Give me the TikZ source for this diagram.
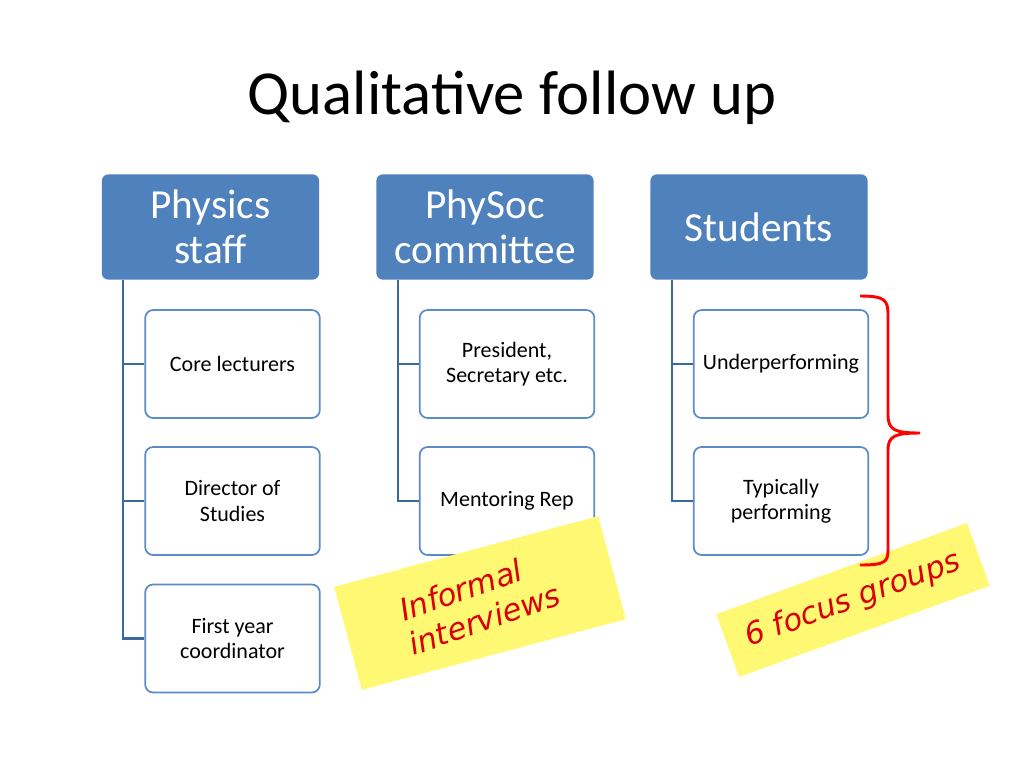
\documentclass[tikz,border=0pt]{standalone}
\usepackage{fontspec}
\setmainfont{Carlito}
\newfontfamily\hand{DejaVu Sans Oblique}
\begin{document}
\begin{tikzpicture}[x=0.75pt,y=-0.75pt,
  head/.style={draw=none,fill=hblue,rounded corners=5pt,text=white,font=\fontsize{31}{34}\selectfont,align=center,minimum width=163pt,minimum height=79pt,inner sep=0pt},
  child/.style={draw=cblue,line width=1.3pt,fill=white,rounded corners=6pt,font=\fontsize{16.5}{19}\selectfont,align=center,minimum width=131pt,minimum height=81pt,inner sep=0pt},
  conn/.style={draw=lblue,line width=1.8pt},
  note/.style={fill=yellow!55,text=red!85!black,font=\hand\fontsize{23}{25}\selectfont,align=left,inner sep=4pt}]
\definecolor{hblue}{HTML}{4F81BD}
\definecolor{cblue}{HTML}{5B8CC8}
\definecolor{lblue}{HTML}{3B6AA0}
\useasboundingbox (0,0) rectangle (1024,768);
\node[font=\fontsize{47}{52}\selectfont] (title) at (512,98) {Qualitative follow up};
\node[head] (h1) at (210.5,227) {Physics\\staff};
\node[head] (h2) at (485,227) {PhySoc\\committee};
\node[head] (h3) at (759,227) {Students};
\node[child] (a1) at (232.5,364) {Core lecturers};
\node[child] (a2) at (232.5,501) {Director of\\Studies};
\node[child] (a3) at (232.5,638.5) {First year\\coordinator};
\node[child] (b1) at (507,364) {President,\\Secretary etc.};
\node[child] (b2) at (507,501) {Mentoring Rep};
\node[child] (c1) at (781,364) {Underperforming};
\node[child] (c2) at (781,501) {Typically\\performing};
\coordinate (s1) at (123,280); \coordinate (s2) at (398,280); \coordinate (s3) at (672,280);
\draw[conn] (s1) |- (a3.west);
\draw[conn] (s1 |- a1.west) -- (a1.west);
\draw[conn] (s1 |- a2.west) -- (a2.west);
\draw[conn] (s2) |- (b2.west);
\draw[conn] (s2 |- b1.west) -- (b1.west);
\draw[conn] (s3) |- (c2.west);
\draw[conn] (s3 |- c1.west) -- (c1.west);
\node[note,rotate=15,minimum width=205pt,minimum height=80pt] (n1) at (480,603) {\rotatebox{4}{Informal}\\\rotatebox{4}{interviews}};
\node[note,rotate=20,minimum width=200pt,minimum height=50pt] (n2) at (853,600) {6 focus groups};
\draw[red,line width=2.2pt] (860,296) .. controls (885,296) and (888,300) .. (888,315) -- (888,415) .. controls (888,430) and (895,433) .. (920,433) .. controls (895,433) and (888,436) .. (888,450) -- (888,550) .. controls (888,562) and (885,565) .. (860,565);
\end{tikzpicture}
\end{document}
